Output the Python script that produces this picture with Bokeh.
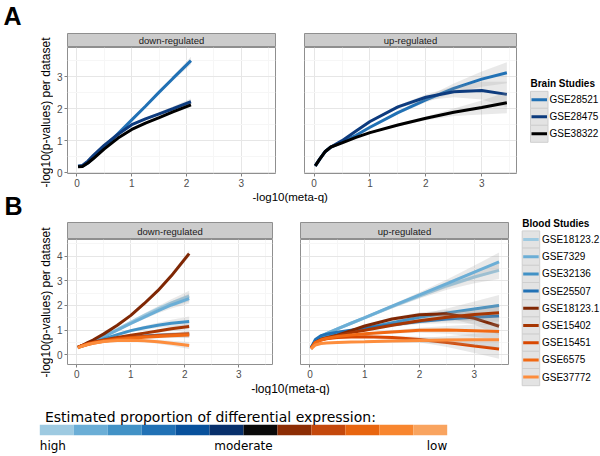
import numpy as np
from bokeh.plotting import figure
from bokeh.layouts import column, row
from bokeh.models import Range1d, FixedTicker
from bokeh.core.properties import value
from bokeh.embed import file_html
from bokeh.resources import INLINE

FONT = "Liberation Sans"
CB_FONT = "DejaVu Sans"

# ---------------- data ----------------
facets = ["down-regulated", "up-regulated"]
x_title = "-log10(meta-q)"
y_title = "-log10(p-values) per dataset"

x_down = [0.02, 0.1, 0.2, 0.3, 0.5, 0.75, 1.0, 1.25, 1.5, 1.75, 2.08]
x_up = [0.02, 0.1, 0.2, 0.3, 0.5, 0.75, 1.0, 1.5, 2.0, 2.5, 3.0, 3.45]

x_ticks = [0, 1, 2, 3]
x_minor = [0.5, 1.5, 2.5, 3.5]
ya_ticks = [0, 1, 2, 3]
ya_minor = [0.5, 1.5, 2.5, 3.5]
yb_ticks = [0, 1, 2, 3, 4]
yb_minor = [0.5, 1.5, 2.5, 3.5, 4.5]

brain_studies = ["GSE28521", "GSE28475", "GSE38322"]
brain_colors = ["#2171b5", "#0d3b7e", "#000000"]

brain_down = {
    "GSE28521": [0.20, 0.20, 0.30, 0.45, 0.80, 1.22, 1.65, 2.08, 2.52, 2.95, 3.51],
    "GSE28475": [0.20, 0.22, 0.36, 0.54, 0.86, 1.20, 1.50, 1.68, 1.84, 2.00, 2.22],
    "GSE38322": [0.18, 0.19, 0.30, 0.44, 0.74, 1.08, 1.35, 1.55, 1.72, 1.90, 2.12],
}
brain_down_se = {
    "GSE28521": [0.04, 0.03, 0.03, 0.03, 0.03, 0.03, 0.03, 0.04, 0.05, 0.07, 0.12],
    "GSE28475": [0.04, 0.03, 0.03, 0.03, 0.03, 0.03, 0.03, 0.04, 0.05, 0.07, 0.10],
    "GSE38322": [0.03, 0.02, 0.02, 0.02, 0.02, 0.02, 0.02, 0.03, 0.04, 0.05, 0.07],
}
brain_up = {
    "GSE28521": [0.21, 0.42, 0.66, 0.80, 0.95, 1.17, 1.42, 1.88, 2.28, 2.64, 2.93, 3.13],
    "GSE28475": [0.21, 0.42, 0.66, 0.80, 1.00, 1.30, 1.60, 2.06, 2.36, 2.53, 2.57, 2.45],
    "GSE38322": [0.21, 0.42, 0.66, 0.80, 0.93, 1.10, 1.25, 1.49, 1.70, 1.89, 2.04, 2.19],
}
brain_up_se = {
    "GSE28521": [0.05, 0.04, 0.03, 0.03, 0.03, 0.03, 0.04, 0.05, 0.08, 0.15, 0.24, 0.33],
    "GSE28475": [0.05, 0.04, 0.03, 0.03, 0.03, 0.03, 0.04, 0.05, 0.09, 0.17, 0.28, 0.40],
    "GSE38322": [0.04, 0.03, 0.02, 0.02, 0.02, 0.02, 0.03, 0.04, 0.06, 0.12, 0.22, 0.33],
}

blood_studies = ["GSE18123.2", "GSE7329", "GSE32136", "GSE25507", "GSE18123.1",
                 "GSE15402", "GSE15451", "GSE6575", "GSE37772"]
blood_colors = ["#9ecae1", "#6baed6", "#4292c6", "#2171b5", "#7f2704",
                "#a63603", "#d94801", "#f16913", "#fd8d3c"]

blood_down = {
    "GSE18123.2": [0.30, 0.37, 0.47, 0.56, 0.76, 1.03, 1.32, 1.60, 1.86, 2.10, 2.38],
    "GSE7329":    [0.30, 0.37, 0.46, 0.55, 0.74, 1.00, 1.27, 1.53, 1.78, 2.02, 2.28],
    "GSE32136":   [0.30, 0.36, 0.43, 0.50, 0.65, 0.82, 0.98, 1.10, 1.20, 1.28, 1.35],
    "GSE25507":   [0.30, 0.37, 0.44, 0.50, 0.59, 0.66, 0.72, 0.76, 0.79, 0.81, 0.83],
    "GSE18123.1": [0.30, 0.38, 0.50, 0.60, 0.85, 1.20, 1.60, 2.08, 2.60, 3.20, 4.10],
    "GSE15402":   [0.30, 0.37, 0.44, 0.50, 0.60, 0.70, 0.79, 0.88, 0.97, 1.06, 1.15],
    "GSE15451":   [0.30, 0.38, 0.45, 0.50, 0.58, 0.65, 0.70, 0.74, 0.78, 0.81, 0.85],
    "GSE6575":    [0.30, 0.36, 0.42, 0.47, 0.55, 0.62, 0.67, 0.71, 0.74, 0.77, 0.80],
    "GSE37772":   [0.28, 0.35, 0.42, 0.47, 0.54, 0.58, 0.59, 0.57, 0.53, 0.47, 0.38],
}
blood_down_se = {
    "GSE18123.2": [0.05, 0.04, 0.04, 0.04, 0.04, 0.05, 0.06, 0.08, 0.11, 0.15, 0.22],
    "GSE7329":    [0.05, 0.04, 0.04, 0.04, 0.04, 0.05, 0.06, 0.08, 0.10, 0.14, 0.20],
    "GSE32136":   [0.05, 0.04, 0.04, 0.04, 0.04, 0.05, 0.06, 0.08, 0.10, 0.14, 0.20],
    "GSE25507":   [0.05, 0.04, 0.04, 0.04, 0.04, 0.04, 0.05, 0.06, 0.08, 0.10, 0.13],
    "GSE18123.1": [0.05, 0.04, 0.04, 0.04, 0.04, 0.04, 0.05, 0.06, 0.07, 0.09, 0.13],
    "GSE15402":   [0.05, 0.04, 0.04, 0.04, 0.04, 0.04, 0.05, 0.06, 0.07, 0.09, 0.12],
    "GSE15451":   [0.05, 0.04, 0.04, 0.04, 0.04, 0.04, 0.05, 0.06, 0.07, 0.09, 0.12],
    "GSE6575":    [0.05, 0.04, 0.04, 0.04, 0.04, 0.04, 0.05, 0.06, 0.07, 0.09, 0.12],
    "GSE37772":   [0.05, 0.04, 0.04, 0.04, 0.04, 0.04, 0.05, 0.06, 0.08, 0.10, 0.14],
}
blood_up = {
    "GSE18123.2": [0.28, 0.55, 0.75, 0.86, 1.05, 1.28, 1.50, 1.95, 2.38, 2.80, 3.15, 3.42],
    "GSE7329":    [0.28, 0.55, 0.75, 0.86, 1.05, 1.28, 1.51, 1.97, 2.43, 2.88, 3.35, 3.76],
    "GSE32136":   [0.28, 0.58, 0.74, 0.80, 0.88, 0.98, 1.08, 1.30, 1.52, 1.70, 1.86, 2.00],
    "GSE25507":   [0.28, 0.62, 0.78, 0.84, 0.92, 1.00, 1.08, 1.22, 1.35, 1.45, 1.52, 1.57],
    "GSE18123.1": [0.26, 0.50, 0.62, 0.68, 0.80, 0.98, 1.17, 1.45, 1.62, 1.66, 1.48, 1.16],
    "GSE15402":   [0.26, 0.50, 0.62, 0.68, 0.78, 0.90, 1.00, 1.20, 1.38, 1.52, 1.63, 1.70],
    "GSE15451":   [0.26, 0.50, 0.60, 0.65, 0.70, 0.72, 0.73, 0.70, 0.62, 0.50, 0.36, 0.24],
    "GSE6575":    [0.26, 0.50, 0.60, 0.66, 0.74, 0.80, 0.85, 0.93, 1.00, 1.01, 0.98, 0.95],
    "GSE37772":   [0.24, 0.40, 0.46, 0.48, 0.50, 0.52, 0.53, 0.56, 0.58, 0.60, 0.61, 0.61],
}
blood_up_se = {
    "GSE18123.2": [0.06, 0.05, 0.04, 0.04, 0.04, 0.04, 0.05, 0.07, 0.10, 0.16, 0.25, 0.35],
    "GSE7329":    [0.06, 0.05, 0.04, 0.04, 0.04, 0.04, 0.05, 0.07, 0.10, 0.17, 0.27, 0.38],
    "GSE32136":   [0.06, 0.05, 0.04, 0.04, 0.04, 0.04, 0.05, 0.07, 0.11, 0.18, 0.30, 0.42],
    "GSE25507":   [0.06, 0.05, 0.04, 0.04, 0.04, 0.04, 0.05, 0.07, 0.10, 0.17, 0.27, 0.38],
    "GSE18123.1": [0.06, 0.05, 0.04, 0.04, 0.04, 0.04, 0.05, 0.07, 0.10, 0.16, 0.26, 0.36],
    "GSE15402":   [0.06, 0.05, 0.04, 0.04, 0.04, 0.04, 0.05, 0.07, 0.10, 0.16, 0.26, 0.36],
    "GSE15451":   [0.06, 0.05, 0.04, 0.04, 0.04, 0.04, 0.05, 0.07, 0.11, 0.18, 0.28, 0.40],
    "GSE6575":    [0.06, 0.05, 0.04, 0.04, 0.04, 0.04, 0.05, 0.07, 0.10, 0.16, 0.25, 0.34],
    "GSE37772":   [0.06, 0.05, 0.04, 0.04, 0.04, 0.04, 0.05, 0.07, 0.10, 0.15, 0.24, 0.33],
}

cbar_title = "Estimated proportion of differential expression:"
cbar_colors = ["#9ecae1", "#6baed6", "#4292c6", "#2171b5", "#08519c", "#08306b",
               "#0a0a0a", "#8c2d04", "#c4480c", "#e8650f", "#f8862f", "#f9a45f"]
cbar_labels = ["high", "moderate", "low"]
cbar_label_pos = [0, 6, 12]
cbar_label_align = ["left", "center", "right"]

# ---------------- layout constants ----------------
X_RANGE = (-0.1725, 3.6225)
YA_RANGE = (-0.03, 3.92)
YB_RANGE = (-0.39, 4.67)


def base(width, height, xr, yr, **kw):
    p = figure(width=width, height=height, x_range=Range1d(*xr), y_range=Range1d(*yr),
               output_backend="svg", toolbar_location=None, tools="", **kw)
    p.min_border = 0
    p.background_fill_color = "white"
    p.border_fill_color = "white"
    return p


def blank(width, height, xr=None, flip=True):
    yr = (height, 0) if flip else (0, height)
    p = base(width, height, xr if xr else (0, width), yr,
             x_axis_location=None, y_axis_location=None)
    p.outline_line_color = None
    p.grid.visible = False
    return p


def make_strip(width, height, ml, mr, label):
    p = base(width, height, (0, 1), (0, 1), x_axis_location=None, y_axis_location=None)
    p.min_border_left = ml
    p.min_border_right = mr
    p.grid.visible = False
    p.background_fill_color = "#cccccc"
    p.outline_line_color = "#8f8f8f"
    p.text(x=[0.5], y=[0.5], text=[label], text_font=value(FONT), text_font_size="9.5px",
           text_align="center", text_baseline="middle", text_color="#1a1a1a")
    return p


def make_panel(width, height, ml, mr, yr, y_ticks, y_minor, show_y):
    p = base(width, height, X_RANGE, yr, x_axis_location="below",
             y_axis_location="left" if show_y else None)
    p.min_border_left = ml
    p.min_border_right = mr
    p.min_border_top = 0
    p.min_border_bottom = 18
    p.outline_line_color = "#8f8f8f"
    xt = FixedTicker(ticks=x_ticks, minor_ticks=x_minor)
    yt = FixedTicker(ticks=y_ticks, minor_ticks=y_minor)
    p.xaxis.ticker = xt
    p.xgrid.ticker = xt
    if show_y:
        p.yaxis.ticker = yt
    p.ygrid.ticker = yt
    p.grid.grid_line_color = "#e6e6e6"
    p.grid.minor_grid_line_color = "#f6f6f6"
    axes = list(p.xaxis) + (list(p.yaxis) if show_y else [])
    for ax in axes:
        ax.axis_line_color = None
        ax.major_tick_line_color = "#7f7f7f"
        ax.major_tick_in = 0
        ax.major_tick_out = 3
        ax.minor_tick_line_color = None
        ax.major_label_text_font = FONT
        ax.major_label_text_font_size = "10px"
        ax.major_label_text_color = "#4d4d4d"
        ax.major_label_standoff = 1
    return p


def draw(p, xs, ys, ses, names, colors):
    x = np.array(xs)
    for name, col in zip(names, colors):
        y = np.array(ys[name])
        se = np.array(ses[name])
        p.varea(x=x, y1=y - se, y2=y + se, fill_color="#999999", fill_alpha=0.22)
        p.line(x, y, line_color=col, line_width=3)


def make_legend(width, height, title, title_y, kx, row_c, row_h, names, colors, tx):
    p = blank(width, height)
    p.text(x=[kx], y=[title_y], text=[title], text_font=value(FONT), text_font_size="10px",
           text_font_style="bold", text_baseline="middle", text_align="left", text_color="black")
    n = len(names)
    cy = [row_c + i * row_h for i in range(n)]
    kw = 17.5
    p.quad(left=[kx] * n, right=[kx + kw] * n, top=[c - row_h / 2 for c in cy],
           bottom=[c + row_h / 2 for c in cy], fill_color="#e3e3e3", line_color="#cfcfcf")
    p.segment(x0=[kx + 1] * n, y0=cy, x1=[kx + kw - 1] * n, y1=cy, line_color=colors,
              line_width=3)
    p.text(x=[tx] * n, y=cy, text=names, text_font=value(FONT), text_font_size="10px",
           text_baseline="middle", text_align="left", text_color="black")
    return p


def label_text(p, x, y, txt, size, style="normal", align="left", baseline="middle",
               font=FONT):
    p.text(x=[x], y=[y], text=[txt], text_font=value(font), text_font_size=size,
           text_font_style=style, text_align=align, text_baseline=baseline,
           text_color="black")


def make_ylabel(width, height, left, size):
    # a bare y axis whose only content is the axis title, centred on the facet row
    p = base(width, height, (0, 1), (0, 1), x_axis_location=None, y_axis_location="left")
    p.min_border_left = left
    p.outline_line_color = None
    p.grid.visible = False
    ax = p.yaxis[0]
    ax.ticker = FixedTicker(ticks=[])
    ax.axis_line_color = None
    ax.major_tick_line_color = None
    ax.minor_tick_line_color = None
    ax.major_tick_out = 0
    ax.minor_tick_out = 0
    ax.major_label_standoff = 0
    ax.axis_label = y_title
    ax.axis_label_text_font = FONT
    ax.axis_label_text_font_size = size
    ax.axis_label_text_font_style = "normal"
    ax.axis_label_text_color = "black"
    ax.axis_label_standoff = 0
    return p


# ---------------- row A ----------------
bandA = blank(600, 33)
label_text(bandA, 3, 15.3, "A", "25px", style="bold")

ylabA = make_ylabel(53, 158, 52, "12px")
stripA_d = make_strip(237, 14, 10, 15, facets[0])
panelA_d = make_panel(237, 144, 10, 15, YA_RANGE, ya_ticks, ya_minor, True)
stripA_u = make_strip(228, 14, 14, 2, facets[1])
panelA_u = make_panel(228, 144, 14, 2, YA_RANGE, ya_ticks, ya_minor, False)
draw(panelA_d, x_down, brain_down, brain_down_se, brain_studies, brain_colors)
draw(panelA_u, x_up, brain_up, brain_up_se, brain_studies, brain_colors)
legA = make_legend(82, 158, "Brain Studies", 49.7, 12, 66.3, 17, brain_studies, brain_colors, 31)

# ---------------- row B ----------------
band2 = blank(516, 31)
label_text(band2, 289.7, 5.5, x_title, "11.5px", align="center")
label_text(band2, 4, 14, "B", "25px", style="bold")

ylabB = make_ylabel(53, 160, 52, "12px")
stripB_d = make_strip(233, 17, 11, 14, facets[0])
panelB_d = make_panel(233, 143, 11, 14, YB_RANGE, yb_ticks, yb_minor, True)
stripB_u = make_strip(230, 17, 14, 8, facets[1])
panelB_u = make_panel(230, 143, 14, 8, YB_RANGE, yb_ticks, yb_minor, False)
draw(panelB_d, x_down, blood_down, blood_down_se, blood_studies, blood_colors)
draw(panelB_u, x_up, blood_up, blood_up_se, blood_studies, blood_colors)

band3a = blank(516, 13)
label_text(band3a, 290, 6, x_title, "12px", align="center")

# colour bar: x in segment-index units
SEG_PX = 33.95
BAR_LEFT = 39.3
band3b = blank(516, 61, xr=(-BAR_LEFT / SEG_PX, (516 - BAR_LEFT) / SEG_PX))
idx = list(range(len(cbar_colors)))
band3b.quad(left=idx, right=[i + 1 for i in idx], top=[29.3] * len(idx),
            bottom=[39.7] * len(idx), fill_color=cbar_colors, line_color=None)
label_text(band3b, 0.15, 21.7, cbar_title, "14px", font=CB_FONT)
for lab, pos, al in zip(cbar_labels, cbar_label_pos, cbar_label_align):
    label_text(band3b, pos, 50, lab, "12px", align=al, font=CB_FONT)

legB = make_legend(84, 265, "Blood Studies", 31.7, 5.7, 48, 17.2, blood_studies, blood_colors, 25.5)

layout = column(
    bandA,
    row(ylabA, column(stripA_d, panelA_d), column(stripA_u, panelA_u), legA),
    row(column(band2,
               row(ylabB, column(stripB_d, panelB_d), column(stripB_u, panelB_u)),
               band3a, band3b),
        legB),
)

open("out.html", "w").write(file_html(layout, INLINE))
